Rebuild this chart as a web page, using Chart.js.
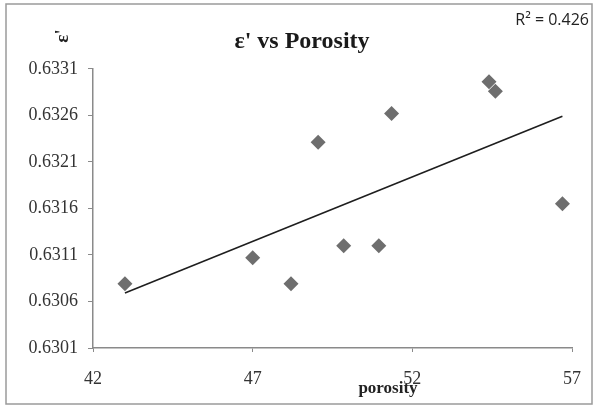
<html lang="en">
<head>
    <meta charset="UTF-8">
    <title>ε' vs Porosity</title>
    <script src="https://cdn.jsdelivr.net/npm/chart.js"></script>
    <style>
        body { margin: 0; background: #fff; }
    </style>
</head>
<body>
    <canvas id="porosityChart" width="597" height="408"></canvas>

    <script>
        // porosity (x) and epsilon' (y)
        const porosity = [43.0, 47.0, 48.2, 49.05, 49.85, 50.95, 51.35, 54.4, 54.6, 56.7];
        const epsilon = [0.63079, 0.63107, 0.63079, 0.63231, 0.63120, 0.63120, 0.63262, 0.63296, 0.63286, 0.63165];
        // linear trend line end points
        const trendX = [43.0, 56.7];
        const trendY = [0.63069, 0.63259];
        const yTicks = [0.6301, 0.6306, 0.6311, 0.6316, 0.6321, 0.6326, 0.6331];
        const xTicks = [42, 47, 52, 57];
        const rSquared = '0.426';

        const serif = "'Liberation Serif', 'Times New Roman', serif";

        // extra text: axis titles where the original puts them, R² and frame
        const extras = {
            id: 'extras',
            beforeDraw(chart) {
                const c = chart.ctx;
                c.save();
                c.strokeStyle = '#9a9a9a';
                c.lineWidth = 1.5;
                c.strokeRect(6, 4, 586, 400);
                c.restore();
            },
            afterDraw(chart) {
                const c = chart.ctx;
                const a = chart.chartArea;
                c.save();
                c.fillStyle = '#222';
                c.font = "16px 'Open Sans', 'Liberation Sans', sans-serif";
                c.textAlign = 'right';
                c.textBaseline = 'middle';
                c.fillText('R\u00b2 = ' + rSquared, 589, 20);

                c.font = 'bold 17px ' + serif;
                c.textAlign = 'center';
                c.fillText('porosity', a.left + 295, 389);

                c.font = 'bold 19px ' + serif;
                c.translate(63, 36);
                c.rotate(-Math.PI / 2);
                c.fillText("ε'", 0, 0);
                c.restore();
            }
        };

        const ctx = document.getElementById('porosityChart').getContext('2d');
        new Chart(ctx, {
            type: 'scatter',
            data: {
                datasets: [{
                    label: "ε'",
                    data: porosity.map((x, i) => ({ x: x, y: epsilon[i] })),
                    pointStyle: 'rectRot',
                    pointRadius: 7.5,
                    backgroundColor: '#6e6e6e',
                    borderColor: '#6e6e6e',
                    borderWidth: 0,
                }, {
                    label: 'Linear',
                    type: 'line',
                    data: trendX.map((x, i) => ({ x: x, y: trendY[i] })),
                    borderColor: '#1e1e1e',
                    borderWidth: 1.6,
                    pointRadius: 0,
                    fill: false,
                }]
            },
            options: {
                responsive: false,
                animation: false,
                layout: { padding: { left: 26, right: 19, top: 0, bottom: 0 } },
                plugins: {
                    legend: { display: false },
                    tooltip: { enabled: false },
                    title: {
                        display: true,
                        text: "ε' vs Porosity",
                        color: '#1a1a1a',
                        font: { family: serif, size: 24, weight: 'bold' },
                        padding: { top: 27, bottom: 13 },
                    },
                },
                scales: {
                    x: {
                        type: 'linear',
                        min: 42,
                        max: 57,
                        afterBuildTicks: (s) => { s.ticks = xTicks.map(v => ({ value: v })); },
                        afterFit: (s) => { s.height = 60; },
                        grid: { drawOnChartArea: false, drawTicks: true, tickLength: 4, color: '#8a8a8a' },
                        border: { display: true, color: '#8a8a8a', width: 1.5 },
                        ticks: {
                            color: '#333',
                            padding: 16,
                            font: { family: serif, size: 18 },
                        },
                    },
                    y: {
                        type: 'linear',
                        min: 0.6301,
                        max: 0.6331,
                        afterBuildTicks: (s) => { s.ticks = yTicks.map(v => ({ value: v })); },
                        afterFit: (s) => { s.width = 67; },
                        grid: { drawOnChartArea: false, drawTicks: true, tickLength: 5, color: '#8a8a8a' },
                        border: { display: true, color: '#8a8a8a', width: 1.5 },
                        ticks: {
                            color: '#333',
                            padding: 10,
                            font: { family: serif, size: 18 },
                            callback: (v) => Number(v).toFixed(4),
                        },
                    },
                },
            },
            plugins: [extras],
        });
    </script>
</body>
</html>
